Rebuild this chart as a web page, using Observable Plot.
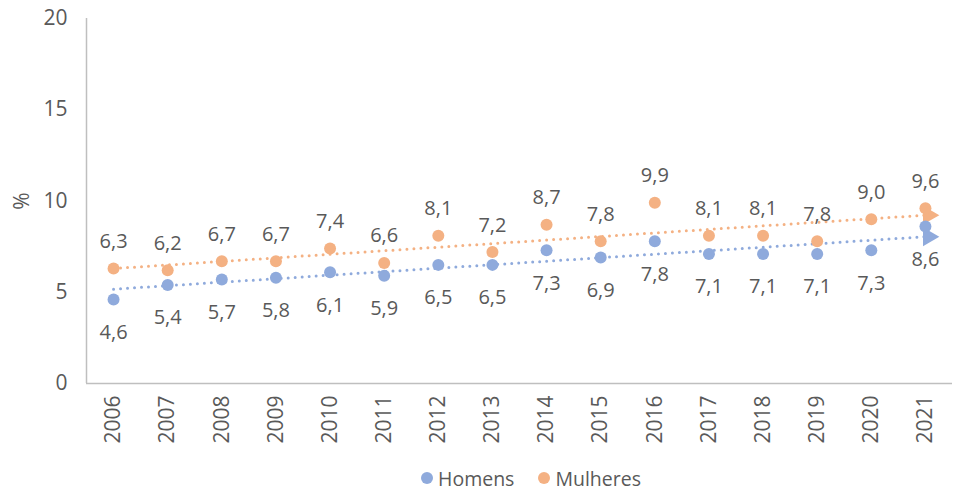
<!DOCTYPE html>
<html>
<head>
<meta charset="utf-8">
<script src="https://cdn.jsdelivr.net/npm/d3@7"></script>
<script src="https://cdn.jsdelivr.net/npm/@observablehq/plot@0.6"></script>
<style>
  html, body { margin: 0; padding: 0; background: #fff; }
  body { width: 956px; height: 494px; overflow: hidden; font-family: "Open Sans", sans-serif; color: #595959; }
  #legend { height: 32px; display: flex; justify-content: center; align-items: center; gap: 24px; font-size: 19.5px; padding-left: 106px; box-sizing: border-box; }
  .item { display: flex; align-items: center; gap: 5px; }
  .sw { width: 12px; height: 12px; border-radius: 50%; display: inline-block; }
</style>
</head>
<body>
<div id="chart"></div>
<div id="legend"></div>
<script>
const years = [2006, 2007, 2008, 2009, 2010, 2011, 2012, 2013, 2014, 2015, 2016, 2017, 2018, 2019, 2020, 2021];
const homens = [4.6, 5.4, 5.7, 5.8, 6.1, 5.9, 6.5, 6.5, 7.3, 6.9, 7.8, 7.1, 7.1, 7.1, 7.3, 8.6];
const mulheres = [6.3, 6.2, 6.7, 6.7, 7.4, 6.6, 8.1, 7.2, 8.7, 7.8, 9.9, 8.1, 8.1, 7.8, 9.0, 9.6];
const yTicks = [0, 5, 10, 15, 20];
const seriesNames = ["Homens", "Mulheres"];
const colors = ["#8FAADC", "#F4B183"];

const seriesValues = [homens, mulheres];
const rows = [];
seriesNames.forEach((s, i) => years.forEach((yr, j) => rows.push({ serie: s, year: yr, value: seriesValues[i][j] })));

function regression(xs, ys) {
  const n = xs.length;
  const mx = d3.mean(xs), my = d3.mean(ys);
  let sxy = 0, sxx = 0;
  for (let i = 0; i < n; i++) { sxy += (xs[i] - mx) * (ys[i] - my); sxx += (xs[i] - mx) ** 2; }
  const b = sxy / sxx, a = my - b * mx;
  return x => a + b * x;
}
const trend = [];
const trendEnds = [];
seriesNames.forEach((s, i) => {
  const f = regression(years, seriesValues[i]);
  const x0 = years[0], x1 = years[years.length - 1];
  trend.push({ serie: s, year: x0, value: f(x0) }, { serie: s, year: x1, value: f(x1) });
  trendEnds.push({ serie: s, year: x1, value: f(x1) });
});

const colorScale = { domain: seriesNames, range: colors };
const tickFont = 21;
const labelFont = 20;

const chart = Plot.plot({
  width: 956,
  height: 462,
  marginLeft: 86,
  marginRight: 4,
  marginTop: 18,
  marginBottom: 79,
  style: { fontFamily: "'Open Sans', sans-serif", fontSize: tickFont + "px", color: "#595959", background: "#fff" },
  x: { type: "linear", domain: [2005.5, 2021.5] },
  y: { domain: [0, 20] },
  color: colorScale,
  marks: [
    Plot.ruleY([0], { stroke: "#BFBFBF", strokeWidth: 1.5 }),
    Plot.ruleX([2005.5], { stroke: "#BFBFBF", strokeWidth: 1.5 }),
    Plot.axisY({ ticks: yTicks, tickSize: 0, tickPadding: 19, fontSize: tickFont, label: "%", labelAnchor: "center", labelOffset: 72, labelArrow: "none" }),
    Plot.axisX({ ticks: years, tickSize: 0, tickPadding: 12, tickRotate: -90, tickFormat: d => String(d), fontSize: tickFont, label: null }),
    Plot.line(trend, { x: "year", y: "value", z: "serie", stroke: "serie", strokeWidth: 3, strokeDasharray: "0 7", strokeLinecap: "round" }),
    Plot.dot(trendEnds, { x: "year", y: "value", fill: "serie", symbol: "triangle", r: 7, rotate: 90, dx: 3 }),
    Plot.dot(rows, { x: "year", y: "value", fill: "serie", r: 6 }),
    Plot.text(rows.filter(d => d.serie === "Homens"), { x: "year", y: "value", text: d => d3.format(".1f")(d.value).replace(".", ","), dy: 33, fill: "#595959", fontSize: labelFont }),
    Plot.text(rows.filter(d => d.serie === "Mulheres"), { x: "year", y: "value", text: d => d3.format(".1f")(d.value).replace(".", ","), dy: -27, fill: "#595959", fontSize: labelFont })
  ]
});
document.getElementById("chart").appendChild(chart);

const legend = document.getElementById("legend");
seriesNames.forEach((s, i) => {
  const item = document.createElement("span");
  item.className = "item";
  const sw = document.createElement("span");
  sw.className = "sw";
  sw.style.background = colors[i];
  const t = document.createElement("span");
  t.textContent = s;
  item.appendChild(sw);
  item.appendChild(t);
  legend.appendChild(item);
});
</script>
</body>
</html>
